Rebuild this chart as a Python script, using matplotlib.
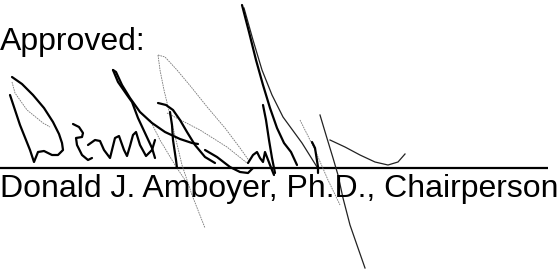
import matplotlib
matplotlib.use("Agg")
import matplotlib.pyplot as plt

# ---- text content ----
label_top = "Approved:"
label_name = "Donald J. Amboyer, Ph.D., Chairperson"

# ---- signature line ----
line_x = [0, 548]
line_y = [167.5, 167.5]

# ---- signature strokes (pixel coordinates) ----
thick_strokes = [
    # D
    [(12, 77), (22, 84), (33, 95), (44, 108), (53, 122), (59, 134), (62, 143), (63, 150), (58, 155),
     (52, 155), (44, 151), (38, 152), (34, 162), (30, 150), (20, 125), (10, 95)],
    # o
    [(73, 124), (79, 127), (83, 133), (82, 137), (76, 138), (77, 145), (82, 155), (88, 160), (92, 158)],
    # nal
    [(88, 145), (95, 140), (100, 141), (104, 150), (110, 158), (112, 150), (115, 138), (119, 136),
     (124, 150), (127, 156), (130, 146), (133, 135), (136, 132), (140, 145), (146, 156),
     (152, 150), (155, 140)],
    # first f loop
    [(113, 70), (118, 82), (127, 95), (132, 102), (138, 118), (145, 133), (152, 148), (155, 158)],
    [(113, 70), (116, 72), (122, 85), (130, 98), (140, 112), (152, 123), (165, 132),
     (180, 139), (192, 143), (198, 144)],
    # second f
    [(158, 103), (166, 105), (173, 110), (180, 120), (187, 132), (195, 145), (205, 157), (215, 163)],
    [(170, 112), (172, 125), (173, 140), (176, 160), (177, 168)],
    # hook below line
    [(205, 150), (217, 157), (230, 167), (240, 172), (248, 173), (253, 168)],
    # zigzag
    [(248, 163), (253, 155), (257, 152), (260, 158), (263, 162), (265, 152), (270, 165), (274, 175)],
    [(263, 105), (266, 120), (269, 140), (272, 158), (275, 173)],
    # big tall stroke
    [(242, 5), (249, 32), (256, 60), (263, 85), (270, 108), (277, 128), (284, 143), (291, 152), (297, 165)],
    [(312, 142), (315, 148), (318, 167), (318, 173)],
]

medium_strokes = [
    [(320, 115), (326, 135), (333, 158), (338, 175), (343, 198), (350, 225), (358, 248), (365, 268)],
    [(330, 140), (345, 147), (360, 155), (375, 162), (388, 165), (398, 162), (405, 154)],
    [(244, 8), (253, 40), (262, 70), (272, 95), (283, 117), (302, 143), (317, 167)],
]

thin_strokes = [
    [(12, 82), (15, 93), (27, 110), (43, 123), (50, 127)],
    [(158, 55), (160, 70), (164, 90), (170, 115), (176, 140), (182, 165), (192, 195), (205, 228)],
    [(158, 55), (165, 57), (177, 70), (192, 88), (208, 108), (225, 128), (240, 148), (250, 162)],
    [(167, 113), (200, 130), (227, 147), (247, 163)],
    [(150, 120), (160, 140), (175, 165), (187, 183)],
    [(300, 120), (315, 150), (328, 180), (340, 205)],
]

W, H = 559, 275
fig = plt.figure(figsize=(W / 100, H / 100), dpi=100)
ax = fig.add_axes([0, 0, 1, 1])
ax.set_xlim(0, W)
ax.set_ylim(H, 0)
ax.axis("off")

font = dict(family=["Liberation Sans", "DejaVu Sans"], size=23.0, color="black")
ax.text(0, 50, label_top, ha="left", va="baseline", **font)
ax.text(0, 197, label_name, ha="left", va="baseline", **font)

ax.plot(line_x, line_y, color="black", lw=1.6, solid_capstyle="butt")

for s in thin_strokes:
    xs, ys = zip(*s)
    ax.plot(xs, ys, color="#777777", lw=0.6, ls=(0, (2, 1)))
for s in medium_strokes:
    xs, ys = zip(*s)
    ax.plot(xs, ys, color="#222222", lw=0.9)
for s in thick_strokes:
    xs, ys = zip(*s)
    ax.plot(xs, ys, color="black", lw=1.6, solid_joinstyle="round", solid_capstyle="round")

fig.savefig("out.png", dpi=100, facecolor="white")
